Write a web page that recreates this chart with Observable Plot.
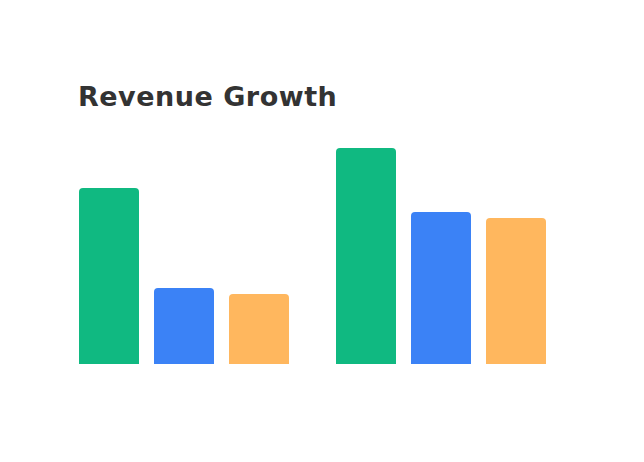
<!DOCTYPE html>
<html>
<head>
<meta charset="utf-8">
<script src="https://cdn.jsdelivr.net/npm/d3@7"></script>
<script src="https://cdn.jsdelivr.net/npm/@observablehq/plot@0.6"></script>
<style>
  html, body { margin: 0; padding: 0; background: #fff; }
  #page { position: relative; width: 644px; height: 462px; overflow: hidden; }
  #title {
    position: absolute; left: 78px; top: 81px; margin: 0;
    font-family: "DejaVu Sans", sans-serif; font-weight: 700;
    font-size: 27px; line-height: 32px; color: #333; letter-spacing: 0.5px;
  }
  #chart { position: absolute; left: 0; top: 124px; }
</style>
</head>
<body>
<div id="page">
  <h2 id="title">Revenue Growth</h2>
  <div id="chart"></div>
</div>
<script>
// Two periods, three revenue segments per period
const periods = ["2023", "2024"];
const segments = ["Enterprise", "SMB", "Consumer"];
const enterprise = [88, 108];
const smb = [38, 76];
const consumer = [35, 73];
const colors = ["#10B981", "#3B82F6", "#FFB75E"];

const series = [enterprise, smb, consumer];
const rows = periods.flatMap((period, i) =>
  segments.map((segment, j) => ({period, segment, value: series[j][i]}))
);

const chart = Plot.plot({
  width: 644,
  height: 338,
  marginLeft: 78,
  marginRight: 98,
  marginTop: 0,
  marginBottom: 98,
  fx: {domain: periods, paddingInner: 0.179, paddingOuter: 0, axis: null, label: null},
  x: {domain: segments, paddingInner: 0.205, paddingOuter: 0, axis: null, label: null},
  y: {domain: [0, 120], axis: null},
  color: {domain: segments, range: colors},
  marks: [
    // bars extend slightly below the baseline so the frame clip squares off the bottom corners
    Plot.barY(rows, {
      fx: "period", x: "segment", y: "value", fill: "segment",
      rx: 4, insetBottom: -6, clip: true
    })
  ]
});
document.getElementById("chart").append(chart);
</script>
</body>
</html>
